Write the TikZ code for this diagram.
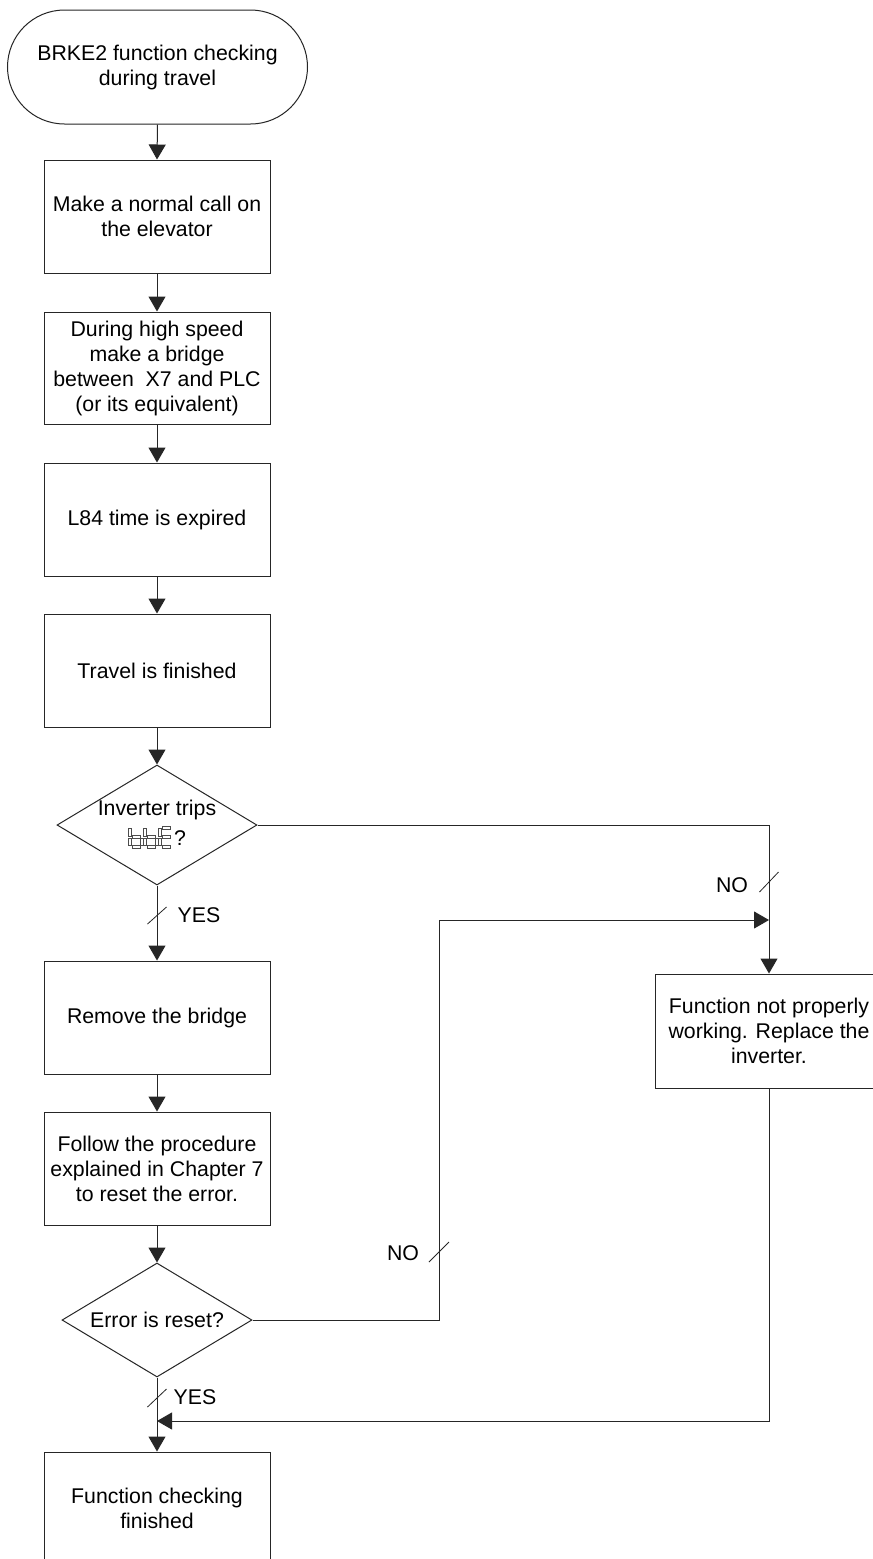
\documentclass[tikz,border=0pt]{standalone}
\usepackage{fontspec}
\setmainfont{Liberation Sans}
\usetikzlibrary{shapes.geometric,arrows.meta}
\newcommand\mysegV[3]{\draw[seg] ({#1-1.4},#2) rectangle ({#1+1.4},#3);}
\newcommand\mysegH[3]{\draw[seg] (#1,{#3-1.4}) rectangle (#2,{#3+1.4});}
\newcommand\mysegB[1]{%
  \mysegV{#1}{828.5}{836}
  \mysegV{#1}{838}{845.5}
  \mysegH{#1+2}{#1+10}{837}
  \mysegV{#1+12}{838}{845.5}
  \mysegH{#1+2}{#1+10}{846.5}}
\newcommand\mysegE[1]{%
  \mysegH{#1+2}{#1+10}{827.5}
  \mysegV{#1}{828.5}{836}
  \mysegV{#1}{838}{845.5}
  \mysegH{#1+2}{#1+10}{837}
  \mysegH{#1+2}{#1+10}{846.5}}
\begin{document}
\begin{tikzpicture}[x=1pt,y=-1pt,
  every node/.style={font=\fontsize{21.3}{25}\selectfont, text=black},
  box/.style={draw=black!85, line width=1pt, minimum width=226pt, minimum height=113pt, align=center, inner sep=0pt},
  dia/.style={draw=black!85, line width=1pt, diamond, inner sep=0pt},
  flow/.style={draw=black!85, line width=1pt, -{Triangle[width=17pt,length=15pt]}},
  conn/.style={draw=black!85, line width=1pt},
  tick/.style={draw=black!85, line width=0.8pt},
  lbl/.style={inner sep=0pt},
  seg/.style={draw=black!70, fill=white, line width=0.6pt}]
\useasboundingbox (0,0) rectangle (873,1559);
\fill[white] (0,0) rectangle (873,1559);

% nodes
\node[draw=black!85, line width=1pt, rounded corners=57pt, minimum width=300pt, minimum height=114pt, align=center, inner sep=0pt]
  (start) at (157.5,67) {BRKE2 function checking\\during travel};
\node[box] (b1) at (157,216.5) {Make a normal call on\\the elevator};
\node[box, minimum height=112pt] (b2) at (157,368) {During high speed\\make a bridge\\between\ \ X7 and PLC\\(or its equivalent)};
\node[box] (b3) at (157,519.5) {L84 time is expired};
\node[box] (b4) at (157,670.5) {Travel is finished};
\node[dia, minimum width=200pt, minimum height=120pt] (d1) at (157,825) {};
\node[lbl] (d1t) at (157,810) {Inverter trips};
\node[lbl, anchor=base west] (d1q) at (174,845) {?};
\node[box] (b5) at (157,1017.5) {Remove the bridge};
\node[box] (b6) at (157,1168.5) {Follow the procedure\\explained in Chapter 7\\to reset the error.};
\node[dia, minimum width=190pt, minimum height=114pt] (d2) at (157,1320) {};
\node[lbl] (d2t) at (157,1320) {Error is reset?};
\node[box] (b7) at (157,1508.5) {Function checking\\finished};
\node[draw=black!85, line width=1pt, minimum width=228pt, minimum height=114pt, align=center, inner sep=0pt]
  (b8) at (769,1031) {Function not properly\\working. Replace the\\inverter.};

% seven-segment bbE
\mysegB{130}
\mysegB{145}
\mysegE{160}

% labels
\node[lbl] (yes1) at (199,915) {YES};
\node[lbl] (no1) at (732,885) {NO};
\node[lbl] (no2) at (403,1253) {NO};
\node[lbl] (yes2) at (195,1397) {YES};

% coordinates
\coordinate (j1) at (439,920);
\coordinate (m1) at (769,920);
\coordinate (m2) at (157,1421);

% connectors
\draw[flow] (start.south) -- (b1.north);
\draw[flow] (b1.south) -- (b2.north);
\draw[flow] (b2.south) -- (b3.north);
\draw[flow] (b3.south) -- (b4.north);
\draw[flow] (b4.south) -- (d1.north);
\draw[flow] (d1.south) -- (b5.north);
\draw[flow] (b5.south) -- (b6.north);
\draw[flow] (b6.south) -- (d2.north);
\draw[flow] (d2.south) -- (b7.north);
\draw[flow] (d1.east) -| (b8.north);
\draw[flow] (d2.east) -| (j1) -- (m1);
\draw[flow] (b8.south) |- (m2);

% slashes
\draw[tick] (147.5,924) -- (166.5,907);
\draw[tick] (759.5,892) -- (778.5,872);
\draw[tick] (429,1262) -- (449,1242);
\draw[tick] (147.5,1407) -- (166.5,1389);
\end{tikzpicture}
\end{document}
